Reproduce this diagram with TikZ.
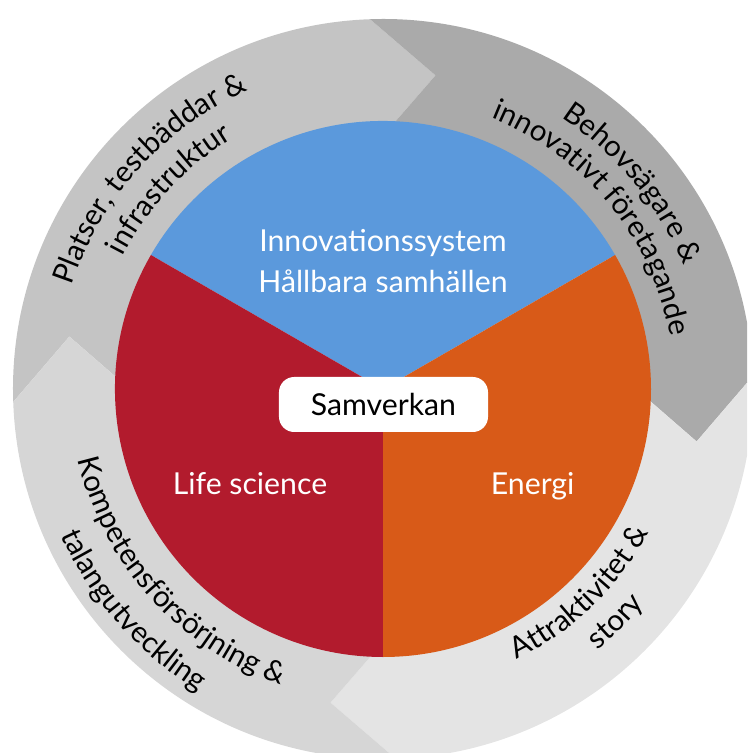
\documentclass[tikz,border=0pt]{standalone}
\usepackage{fontspec}
\setmainfont{Lato}
\usetikzlibrary{decorations.text}

\definecolor{innovblue}{RGB}{91,153,220}
\definecolor{lifered}{RGB}{178,27,45}
\definecolor{energyorange}{RGB}{216,90,24}
\definecolor{ringA}{RGB}{196,196,196}
\definecolor{ringB}{RGB}{170,170,170}
\definecolor{ringC}{RGB}{228,228,228}
\definecolor{ringD}{RGB}{214,214,214}

\newcommand{\ringfont}{\fontsize{21}{26}\selectfont}
\newcommand{\piefont}{\fontsize{21.5}{26}\selectfont}

\tikzset{
  inlabel/.style={text=white,font=\piefont,anchor=base,inner sep=0pt},
  ringlabel/.style={decorate,decoration={text along path,text align=center,text={#1}}}
}

\begin{document}
\begin{tikzpicture}

	\useasboundingbox (-9.575,-9.1) rectangle (9.1,9.725);
	\clip (-9.575,-9.1) rectangle (9.1,9.725);

	% outer ring of chevrons
	\foreach \s/\e/\c in {180/90/ringA,90/0/ringB,0/-90/ringC,-90/-180/ringD}
	  \fill[fill=\c] ({\s+2}:9.25) -- ({\s-9.5}:7.95) -- ({\s-2}:6.6)
	      arc[start angle={\s-2},end angle={\e-2},radius=6.6]
	      -- ({\e-9.5}:7.95) -- ({\e+2}:9.25)
	      arc[start angle={\e+2},end angle={\s+2},radius=9.25] -- cycle;

	% inner pie
	\fill[innovblue] (0,0) -- (30:6.7) arc[start angle=30,end angle=150,radius=6.7] -- cycle;
	\fill[lifered] (0,0) -- (150:6.7) arc[start angle=150,end angle=270,radius=6.7] -- cycle;
	\fill[energyorange] (0,0) -- (270:6.7) arc[start angle=270,end angle=390,radius=6.7] -- cycle;

	\node[inlabel] (innov) at (0,3.425) {Innovationssystem};
	\node[inlabel] (hallbara) at (0,2.4) {Hållbara samhällen};
	\node[inlabel] (life) at (-3.325,-2.65) {Life science};
	\node[inlabel] (energi) at (3.74,-2.65) {Energi};

	\node[fill=white,rounded corners=0.38cm,minimum width=5.225cm,minimum height=1.375cm,font=\piefont] (samverkan) at (0.0125,-0.3875) {Samverkan};

	% ring texts
	\path[ringlabel={|\ringfont|Platser, testbäddar {\&}}] (178:8.2) arc[start angle=178,end angle=98,radius=8.2];
	\path[ringlabel={|\ringfont|infrastruktur}] (177:7.3) arc[start angle=177,end angle=97,radius=7.3];

	\path[ringlabel={|\ringfont|Behovsägare {\&}}] (79.5:8.12) arc[start angle=79.5,end angle=-0.5,radius=8.12];
	\path[ringlabel={|\ringfont|innovativt företagande}] (79.3:7.3) arc[start angle=79.3,end angle=-0.7,radius=7.3];

	\path[ringlabel={|\ringfont|Kompetensförsörjning {\&}}] (182:7.82) arc[start angle=182,end angle=262,radius=7.82];
	\path[ringlabel={|\ringfont|talangutveckling}] (181.5:8.85) arc[start angle=181.5,end angle=261.5,radius=8.85];

	\path[ringlabel={|\ringfont|Attraktivitet {\&}}] (-86:7.55) arc[start angle=-86,end angle=-6,radius=7.55];
	\path[ringlabel={|\ringfont|story}] (-85:8.45) arc[start angle=-85,end angle=-5,radius=8.45];

\end{tikzpicture}
\end{document}
